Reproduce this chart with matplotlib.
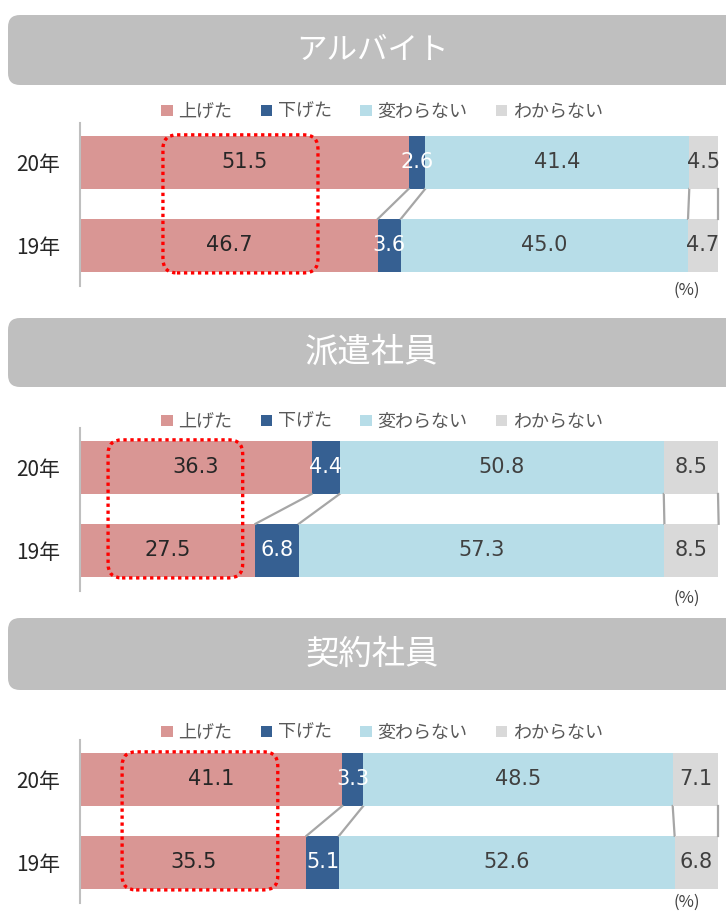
import matplotlib
matplotlib.use("Agg")
import matplotlib.pyplot as plt
from matplotlib.patches import FancyBboxPatch
from matplotlib.transforms import IdentityTransform
import numpy as np

plt.rcParams['font.family'] = ['Noto Sans CJK JP', 'DejaVu Sans']

# ── data ─────────────────────────────────────────────────────────────────────
categories = ['上げた', '下げた', '変わらない', 'わからない']
years = ['20年', '19年']
titles = ['アルバイト', '派遣社員', '契約社員']

arubaito_20 = [51.5, 2.6, 41.4, 4.5]
arubaito_19 = [46.7, 3.6, 45.0, 4.7]
haken_20 = [36.3, 4.4, 50.8, 8.5]
haken_19 = [27.5, 6.8, 57.3, 8.5]
keiyaku_20 = [41.1, 3.3, 48.5, 7.1]
keiyaku_19 = [35.5, 5.1, 52.6, 6.8]

# highlighted range (in %) of the red dotted box per panel
highlight = [(13.0, 37.3), (4.4, 25.5), (6.6, 31.0)]

panels = [(titles[0], arubaito_20, arubaito_19),
          (titles[1], haken_20, haken_19),
          (titles[2], keiyaku_20, keiyaku_19)]

# ── style ────────────────────────────────────────────────────────────────────
colours = ['#D99694', '#366092', '#B7DDE8', '#D9D9D9']
label_colours = ['#262626', '#FFFFFF', '#404040', '#404040']
title_sizes = [22, 24, 24]

W, H = 726, 911
fig = plt.figure(figsize=(W / 100, H / 100), dpi=100)


def fx(px):
    return px / W


def fy(py):
    return 1 - py / H


banner_y = [(15, 85), (318, 387), (618, 690)]
legend_y = [112, 422, 733]
axes_top = [123, 428, 740]
pct_y = [290, 598, 902]
ax_h = 163
bar_h = 0.64

for i, (title, v20, v19) in enumerate(panels):
    # header banner
    y0, y1 = banner_y[i]
    fig.add_artist(FancyBboxPatch((8, H - y1), 760, y1 - y0,
                                  boxstyle="round,pad=0,rounding_size=12",
                                  transform=IdentityTransform(),
                                  facecolor='#BFBFBF', edgecolor='none'))
    fig.text(fx(372), fy((y0 + y1) / 2), title, ha='center', va='center',
             color='white', fontsize=title_sizes[i])

    ax = fig.add_axes([fx(80), fy(axes_top[i] + ax_h), fx(718) - fx(80), ax_h / H])
    data = np.array([v20, v19])
    ypos = np.arange(len(years))
    left = np.zeros(len(years))
    for j, cat in enumerate(categories):
        ax.barh(ypos, data[:, j], left=left, height=bar_h,
                color=colours[j], label=cat)
        for k in range(len(years)):
            ax.text(left[k] + data[k, j] / 2, ypos[k], f"{data[k, j]:.1f}",
                    ha='center', va='center', color=label_colours[j],
                    fontsize=15, family='DejaVu Sans')
        left = left + data[:, j]
        # series lines between the two bars
        if j > 0:
            ax.plot([left[0], left[1]], [bar_h / 2, 1 - bar_h / 2],
                    color='#A6A6A6', lw=1.6, clip_on=False, zorder=1)
    ax.plot([data[0, 0], data[1, 0]], [bar_h / 2, 1 - bar_h / 2],
            color='#A6A6A6', lw=1.6, clip_on=False, zorder=1)

    ax.set_xlim(0, 100)
    ax.set_ylim(1.49, -0.475)
    ax.set_xticks([])
    ax.set_yticks(ypos, years)
    ax.tick_params(axis='y', length=0, pad=14, labelsize=15, labelcolor='#262626')
    for s in ['top', 'right', 'bottom']:
        ax.spines[s].set_visible(False)
    ax.spines['left'].set_color('#BFBFBF')
    ax.spines['left'].set_linewidth(1.5)

    handles, labels = ax.get_legend_handles_labels()
    fig.legend(handles, labels, loc='center', ncol=4, frameon=False,
               bbox_to_anchor=(fx(382), fy(legend_y[i])), fontsize=13,
               handlelength=0.62, handleheight=0.62, handletextpad=0.3,
               columnspacing=1.6, labelcolor='#595959')

    # red dotted highlight box
    hx0, hx1 = highlight[i]
    (dx0, dy0), (dx1, dy1) = ax.transData.transform([(hx0, 1 + bar_h / 2),
                                                     (hx1, -bar_h / 2)])
    fig.add_artist(FancyBboxPatch((dx0, dy0 - 1), dx1 - dx0, dy1 - dy0 + 2,
                                  boxstyle="round,pad=0,rounding_size=14",
                                  transform=IdentityTransform(),
                                  facecolor='none', edgecolor='#FF0000',
                                  lw=2.4, linestyle=(0, (1, 1.1)), zorder=5))

    fig.text(fx(687), fy(pct_y[i]), '(%)', ha='center', va='center',
             fontsize=12, color='#404040')

fig.savefig("out.png", dpi=100)
